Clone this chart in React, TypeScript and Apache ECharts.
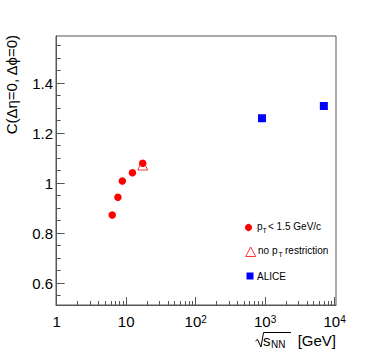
import React, { useEffect, useRef } from "react";
import * as echarts from "echarts";

// SPS energies (GeV) and correlation values
const spsEnergy = [6.3, 7.6, 8.8, 12.3, 17.3];
const spsLowPt = [0.872, 0.943, 1.008, 1.041, 1.079];
const noPtEnergy = [17.3];
const noPtValue = [1.072];
const aliceEnergy = [900, 7000];
const aliceValue = [1.259, 1.308];

const xMajorTicks = [1, 10, 100, 1000, 10000];
const xMinorTicks: number[] = [];
for (const dec of [1, 10, 100, 1000]) for (let k = 2; k <= 9; k++) xMinorTicks.push(k * dec);
const yMajorTicks = [0.6, 0.8, 1.0, 1.2, 1.4];
const yMinorTicks = [0.55, 0.6, 0.65, 0.7, 0.75, 0.8, 0.85, 0.9, 0.95, 1.0, 1.05, 1.1, 1.15, 1.2, 1.25, 1.3, 1.35, 1.4, 1.45, 1.5, 1.55];

const FONT = "Liberation Sans, Arial, Helvetica, sans-serif";
const AX = "#555";

const lg = (v: number) => Math.log10(v);

export default function App() {
  const ref = useRef<HTMLDivElement>(null);
  useEffect(() => {
    if (!ref.current) return;
    const chart = echarts.init(ref.current, null, { renderer: "svg" });
    const xMin = -0.01, xMax = 4.02, yMin = 0.512, yMax = 1.588;
    const tickFmtX = (v: number) => {
      const e = Math.round(v);
      if (e === 0) return "{b|1}";
      if (e === 1) return "{b|10}";
      return "{b|10}{sup|" + e + "}";
    };
    chart.setOption({
      animation: false,
      backgroundColor: "#fff",
      grid: { left: 56, top: 36, width: 280, height: 269, show: true, borderColor: AX, borderWidth: 1, backgroundColor: "transparent" },
      xAxis: [
        {
          type: "value", min: xMin, max: xMax, position: "bottom",
          axisLine: { show: true, lineStyle: { color: AX, width: 1 } },
          axisTick: { show: true, inside: true, length: 8, customValues: xMajorTicks.map(lg), lineStyle: { color: AX } },
          axisLabel: {
            show: true, customValues: xMajorTicks.map(lg), margin: 9, formatter: tickFmtX, color: "#000",
            rich: {
              b: { fontSize: 15, fontFamily: FONT, color: "#000" },
              sup: { fontSize: 10, fontFamily: FONT, color: "#000", verticalAlign: "top" },
            },
          },
          splitLine: { show: false },
        },
        {
          type: "value", min: xMin, max: xMax, position: "bottom", gridIndex: 0,
          axisLine: { show: false },
          axisTick: { show: true, inside: true, length: 4, customValues: xMinorTicks.map(lg), lineStyle: { color: AX } },
          axisLabel: { show: false },
          splitLine: { show: false },
        },
      ],
      yAxis: [
        {
          type: "value", min: yMin, max: yMax, position: "left",
          axisLine: { show: true, lineStyle: { color: AX, width: 1 } },
          axisTick: { show: true, inside: true, length: 8, customValues: yMajorTicks, lineStyle: { color: AX } },
          axisLabel: {
            show: true, customValues: yMajorTicks, margin: 3, color: "#000", fontSize: 15, fontFamily: FONT,
            formatter: (v: number) => (Math.abs(v - 1) < 1e-9 ? "1" : v.toFixed(1)),
          },
          splitLine: { show: false },
        },
        {
          type: "value", min: yMin, max: yMax, position: "left",
          axisLine: { show: false },
          axisTick: { show: true, inside: true, length: 4, customValues: yMinorTicks, lineStyle: { color: AX } },
          axisLabel: { show: false },
          splitLine: { show: false },
        },
      ],
      series: [
        {
          type: "scatter", name: "no pT restriction", xAxisIndex: 0, yAxisIndex: 0,
          symbol: "triangle", symbolSize: 10,
          itemStyle: { color: "rgba(255,255,255,0)", borderColor: "#ff3333", borderWidth: 1, opacity: 1 },
          data: noPtEnergy.map((e, i) => [lg(e), noPtValue[i]]),
        },
        {
          type: "scatter", name: "pT < 1.5 GeV/c", xAxisIndex: 0, yAxisIndex: 0,
          symbol: "circle", symbolSize: 7.5,
          itemStyle: { color: "#ff0000", opacity: 1 },
          data: spsEnergy.map((e, i) => [lg(e), spsLowPt[i]]),
        },
        {
          type: "scatter", name: "ALICE", xAxisIndex: 0, yAxisIndex: 0,
          symbol: "rect", symbolSize: 8,
          itemStyle: { color: "#0000ff", opacity: 1 },
          data: aliceEnergy.map((e, i) => [lg(e), aliceValue[i]]),
        },
      ],
      graphic: [
        {
          type: "text", x: 11, y: 35, rotation: Math.PI / 2,
          style: { text: "C(Δη=0, Δϕ=0)", fontSize: 15, fontFamily: FONT, fill: "#000", align: "right", verticalAlign: "middle" },
        },
        // x title: sqrt(s_NN) [GeV]
        {
          type: "polyline",
          shape: { points: [[255.5, 341], [257.5, 339.5], [261, 347], [263.5, 332.5], [291, 332.5]] },
          style: { stroke: "#000", lineWidth: 1, fill: null },
        },
        { type: "text", x: 263, y: 340, style: { text: "s", fontSize: 15, fontFamily: FONT, fill: "#000", align: "left", verticalAlign: "middle" } },
        { type: "text", x: 271, y: 344.5, style: { text: "NN", fontSize: 10, fontFamily: FONT, fill: "#000", align: "left", verticalAlign: "middle" } },
        { type: "text", x: 336, y: 340, style: { text: "[GeV]", fontSize: 15, fontFamily: FONT, fill: "#000", align: "right", verticalAlign: "middle" } },
        // legend
        { type: "circle", shape: { cx: 248.5, cy: 227.5, r: 3.6 }, style: { fill: "#ff0000" } },
        { type: "text", x: 257, y: 226, style: { text: "p", fontSize: 10, fontFamily: FONT, fill: "#000", verticalAlign: "middle" } },
        { type: "text", x: 262.5, y: 230, style: { text: "T", fontSize: 7, fontFamily: FONT, fill: "#000", verticalAlign: "middle" } },
        { type: "text", x: 268, y: 226, style: { text: "< 1.5 GeV/c", fontSize: 10, fontFamily: FONT, fill: "#000", verticalAlign: "middle" } },
        { type: "polygon", shape: { points: [[250.7, 247], [255.7, 256.5], [245.7, 256.5]] }, style: { fill: "none", stroke: "#ff3333", lineWidth: 1 } },
        { type: "text", x: 258, y: 250, style: { text: "no p", fontSize: 10, fontFamily: FONT, fill: "#000", verticalAlign: "middle" } },
        { type: "text", x: 278.5, y: 254, style: { text: "T", fontSize: 7, fontFamily: FONT, fill: "#000", verticalAlign: "middle" } },
        { type: "text", x: 285, y: 250, style: { text: "restriction", fontSize: 10, fontFamily: FONT, fill: "#000", verticalAlign: "middle" } },
        { type: "rect", shape: { x: 246.5, y: 272.5, width: 7, height: 7 }, style: { fill: "#0000ff" } },
        { type: "text", x: 257, y: 276, style: { text: "ALICE", fontSize: 10, fontFamily: FONT, fill: "#000", verticalAlign: "middle" } },
      ],
    });
    return () => chart.dispose();
  }, []);
  return <div ref={ref} style={{ width: 374, height: 360, position: "absolute", left: 0, top: 0 }} />;
}
